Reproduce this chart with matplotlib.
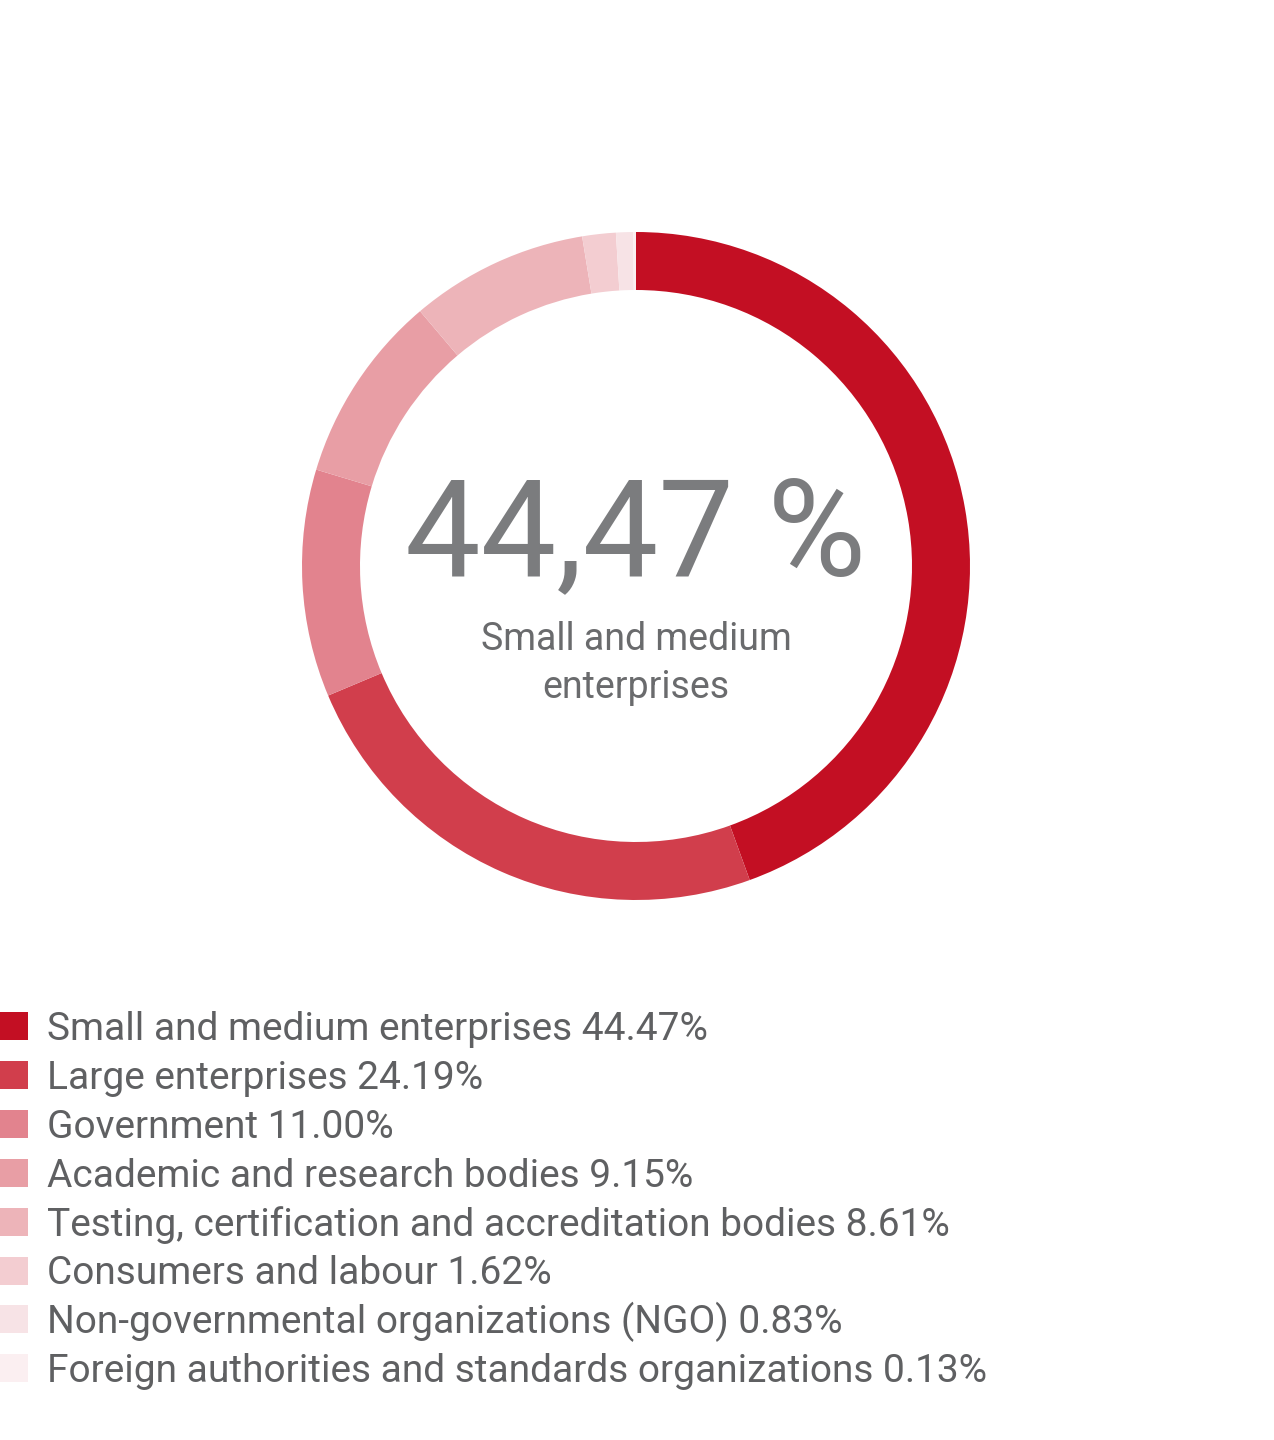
import matplotlib.pyplot as plt
from matplotlib.patches import Rectangle

plt.rcParams['font.family'] = ['Roboto', 'DejaVu Sans']

# data
labels = ['Small and medium enterprises', 'Large enterprises', 'Government',
          'Academic and research bodies', 'Testing, certification and accreditation bodies',
          'Consumers and labour', 'Non-governmental organizations (NGO)',
          'Foreign authorities and standards organizations']
shares = [44.47, 24.19, 11.00, 9.15, 8.61, 1.62, 0.83, 0.13]
colors = ['#C30F23', '#D13E4C', '#E2838E', '#E89EA5', '#EDB4B9', '#F3CDD1', '#F7E3E6', '#FBEFF1']
center_value = '44,47 %'
center_lines = ['Small and medium', 'enterprises']

W, H = 1274, 1440
fig = plt.figure(figsize=(W / 100, H / 100), dpi=100)

# donut
cx, cy, r = 636, 566, 334
ax = fig.add_axes([(cx - r) / W, 1 - (cy + r) / H, 2 * r / W, 2 * r / H])
ax.pie(shares, colors=colors, startangle=90, counterclock=False, radius=1,
       wedgeprops=dict(width=58 / 334, edgecolor='none'))
ax.set_xlim(-1, 1)
ax.set_ylim(-1, 1)
ax.set_aspect('equal')
ax.axis('off')

fig.text(636 / W, 1 - 575 / H, center_value, ha='center', va='baseline',
         fontsize=97, color='#7B7C7E')
for k, line in enumerate(center_lines):
    fig.text(636 / W, 1 - (650 + 48 * k) / H, line, ha='center', va='baseline',
             fontsize=27, color='#6A6B6D')

# legend
y0, step = 1040, 48.9
for i, (lab, val, col) in enumerate(zip(labels, shares, colors)):
    yb = y0 + i * step
    fig.patches.append(Rectangle((0, 1 - yb / H), 28 / W, 28 / H, transform=fig.transFigure,
                                 facecolor=col, edgecolor='none'))
    fig.text(47 / W, 1 - yb / H, f'{lab} {val:.2f}%', ha='left', va='baseline',
             fontsize=28, color='#5F6062')

fig.savefig('out.png', dpi=100, facecolor='white')
